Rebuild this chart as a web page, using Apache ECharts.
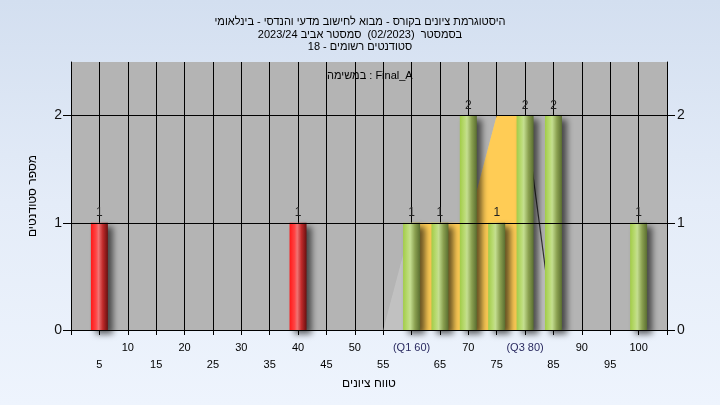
<!DOCTYPE html>
<html>
<head>
<meta charset="utf-8">
<script src="https://cdn.jsdelivr.net/npm/echarts@6/dist/echarts.min.js"></script>
<style>
html,body{margin:0;padding:0;}
#chart{width:720px;height:405px;background:linear-gradient(to bottom,#d3dff0 0%,#e4ecf8 50%,#eef4fd 100%);}
</style>
</head>
<body>
<div id="chart"></div>
<script>
// ---- data ----
const titleLines = [
  'היסטוגרמת ציונים בקורס - מבוא לחישוב מדעי והנדסי - בינלאומי',
  'בסמסטר  (02/2023)  סמסטר אביב 2023/24',
  'סטודנטים רשומים - 18'
];
const taskLabel = 'במשימה : Final_A';
const xAxisName = 'טווח ציונים';
const yAxisName = 'מספר סטודנטים';
const grades = [5, 40, 60, 65, 70, 75, 80, 85, 100];
const counts = [1, 1, 1, 1, 2, 1, 2, 2, 1];
const polyX = [55, 60, 65, 70, 75, 80, 85];
const polyY = [0, 1, 1, 1, 2, 2, 0];
const Q1 = 60;
const Q3 = 80;
const passGrade = 55;
const yTicks = [0, 1, 2];
const gridLinesY = [1, 2];

// ---- styles ----
const FONT = '"Liberation Sans", "DejaVu Sans", Arial, sans-serif';
function grad(stops) {
  return new echarts.graphic.LinearGradient(0, 0, 1, 0, stops.map((c, i) => ({offset: c[0], color: c[1]})));
}
const redFill = grad([[0, '#ff1818'], [0.3, '#ff4545'], [0.45, '#f07474'], [0.7, '#c02a2a'], [1, '#6a1010']]);
const greenFill = grad([[0, '#a2cc48'], [0.3, '#bcdc78'], [0.42, '#c4de90'], [0.7, '#8aa050'], [1, '#5a6e30']]);

const barData = grades.map((g, i) => ({
  value: [g, counts[i]],
  itemStyle: {color: g < passGrade ? redFill : greenFill}
}));
const polyAll = polyX.map((x, i) => [x, polyY[i]]);
const polyIQR = polyAll.filter(p => p[0] >= Q1 && p[0] <= Q3);
const polyTail = polyAll.filter(p => p[0] >= Q3);

const chart = echarts.init(document.getElementById('chart'), null, {renderer: 'canvas'});
chart.setOption({
  backgroundColor: 'transparent',
  animation: false,
  textStyle: {fontFamily: FONT},
  title: {
    text: titleLines.join('\n'),
    left: 'center',
    top: 11,
    textStyle: {fontSize: 11, lineHeight: 12.5, fontWeight: 'normal', color: '#000', fontFamily: FONT}
  },
  graphic: [{
    type: 'text', left: 327, top: 70,
    style: {text: taskLabel, fontSize: 11, fill: '#000', fontFamily: FONT}
  }],
  grid: {left: 71, right: 53, top: 62, bottom: 75, show: true, backgroundColor: '#b4b4b4', borderWidth: 0},
  xAxis: {
    type: 'value', min: 0, max: 105, interval: 5,
    name: xAxisName, nameLocation: 'middle', nameGap: 45,
    nameTextStyle: {fontSize: 12, color: '#000', fontFamily: FONT},
    axisLine: {show: true, lineStyle: {color: '#000', width: 1}},
    axisTick: {show: true, length: 5, lineStyle: {color: '#000'}},
    splitLine: {show: true, lineStyle: {color: '#000', width: 1}},
    axisLabel: {
      fontSize: 11, color: '#000', margin: 9, lineHeight: 17, fontFamily: FONT,
      showMinLabel: true, showMaxLabel: true,
      formatter: function (v) {
        if (v <= 0 || v > 100) return '';
        let t = String(v);
        if (v === Q1) return '{q|(Q1 ' + v + ')}';
        if (v === Q3) return '{q|(Q3 ' + v + ')}';
        return (v % 10 === 0) ? t : '\n' + t;
      },
      rich: {q: {color: '#2a2a60', fontSize: 11, fontFamily: FONT}}
    }
  },
  yAxis: [{
    type: 'value', min: 0, max: 2.5, interval: 1, position: 'left',
    name: yAxisName, nameLocation: 'middle', nameGap: 32, nameRotate: 90,
    nameTextStyle: {fontSize: 12, color: '#000', fontFamily: FONT},
    axisLine: {show: true, lineStyle: {color: '#000'}},
    axisTick: {show: true, length: 8, customValues: yTicks, lineStyle: {color: '#000'}},
    axisLabel: {fontSize: 14, color: '#111', margin: 9, customValues: yTicks, fontFamily: FONT},
    splitLine: {show: false}
  }, {
    type: 'value', min: 0, max: 2.5, interval: 1, position: 'right',
    axisLine: {show: true, lineStyle: {color: '#000'}},
    axisTick: {show: true, length: 8, customValues: yTicks, lineStyle: {color: '#000'}},
    axisLabel: {fontSize: 14, color: '#111', margin: 10, customValues: yTicks, fontFamily: FONT},
    splitLine: {show: false}
  }],
  series: [{
    type: 'line', z: 1, data: polyAll, symbol: 'none', silent: true,
    lineStyle: {width: 0, opacity: 0},
    areaStyle: {color: 'rgba(206,206,206,0.75)'},
    markLine: {
      silent: true, symbol: 'none', label: {show: false},
      lineStyle: {color: '#000', width: 1, type: 'solid'},
      data: gridLinesY.map(v => ({yAxis: v}))
    }
  }, {
    type: 'line', z: 1.5, data: polyIQR, symbol: 'none', silent: true,
    lineStyle: {width: 0, opacity: 0},
    areaStyle: {color: '#ffcc55', opacity: 1}
  }, {
    type: 'line', z: 2, data: polyTail, symbol: 'none', silent: true,
    lineStyle: {width: 1.2, color: '#333'}
  }, {
    type: 'bar', z: 3, data: barData, barWidth: 17,
    itemStyle: {shadowColor: 'rgba(0,0,0,0.6)', shadowBlur: 6, shadowOffsetX: 5, shadowOffsetY: 4},
    label: {show: true, position: 'top', distance: 4, fontSize: 12, color: '#222', fontFamily: FONT,
      formatter: p => String(p.value[1])}
  }]
});
</script>
</body>
</html>
